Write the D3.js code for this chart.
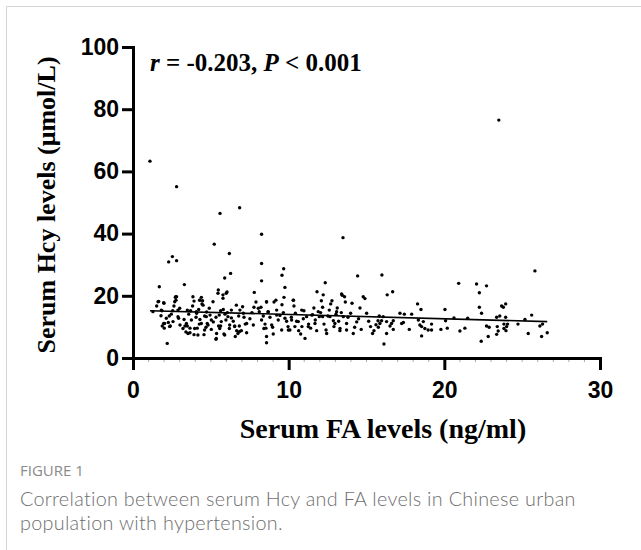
<!DOCTYPE html>
<html>
<head>
<meta charset="utf-8">
<script src="https://cdn.jsdelivr.net/npm/d3@7"></script>
<style>
  html, body { margin: 0; padding: 0; background: #fff; }
  svg { display: block; }
</style>
</head>
<body>
<svg id="chart" width="641" height="550"></svg>
<script>
// Serum FA levels (ng/ml) — x values
const fa = [
  1.09, 2.8, 23.5, 5.59, 6.85, 8.26, 5.22, 6.19, 2.53, 2.29, 2.8, 8.26, 6.27, 5.89, 8.26, 9.68, 9.57, 9.76, 13.49, 14.43, 12.35, 11.82, 7.79, 1.69, 3.3, 2.2, 5.48, 6.04, 5.78, 2.8,
  1.65, 1.52, 1.99, 1.86, 1.80, 1.97, 1.88, 2.01, 2.27, 2.40, 2.46, 2.33, 2.55, 2.63, 2.76, 2.72, 2.89, 2.93, 3.02, 3.28, 3.34, 3.49, 3.40, 3.66, 3.66, 3.92, 3.49, 3.58, 3.70, 3.83, 3.92, 4.09, 4.05, 4.22, 4.30, 4.39, 4.47, 4.43, 4.30, 4.26, 4.13, 4.56, 4.69, 4.77, 4.60, 4.73, 4.90, 4.95, 5.03, 5.16, 5.33, 5.37, 5.50, 5.33, 5.54, 5.63, 5.80, 5.91, 6.06, 5.97, 5.63, 5.84, 6.19, 6.32, 6.44, 6.53, 6.66, 6.57, 6.74, 6.83, 6.79, 6.87, 7.04, 7.13, 7.21, 6.96, 7.30, 7.51, 7.64, 7.77, 7.90, 8.11, 8.22, 8.37, 8.48, 8.58, 8.54, 8.58, 8.67, 8.80, 8.97, 9.01, 9.06, 9.23, 9.18, 9.33, 9.44, 9.57, 9.66, 9.70, 9.87, 9.96, 10.08, 10.17, 10.30, 10.34, 10.43, 10.51, 10.64, 10.77, 10.85, 10.94, 10.98, 11.15, 11.28, 11.41, 11.54, 11.62, 11.71, 11.80, 11.97, 12.05, 12.10, 12.18, 12.27, 12.40, 12.52, 12.61, 12.70, 12.78, 12.87, 12.91, 13.04, 13.12, 13.21, 13.29, 13.38, 13.44, 13.59, 13.64, 13.72, 13.81, 13.98, 14.07, 14.15, 14.24, 14.37, 14.49, 14.58, 14.66, 14.79, 14.90, 15.01, 15.14, 15.26, 15.39, 15.48, 15.61, 15.74, 15.82,
  15.99, 16.33, 16.68, 15.76, 15.86, 15.97, 16.07, 16.29, 16.12, 16.29, 16.51, 16.61, 16.72, 16.72, 17.15, 17.26, 17.43, 17.37, 17.75, 17.90, 18.28, 18.33, 18.50, 18.43, 18.54, 18.54, 18.65, 18.75, 18.96, 19.18, 19.18, 19.78, 20.04, 20.08, 20.19, 20.62, 20.92, 21.00, 21.32, 21.50, 22.07, 22.25, 22.71, 22.25, 22.39, 22.37, 22.82, 22.71, 22.88, 23.36, 23.40, 23.36, 23.56, 23.46, 23.68, 23.79, 23.94, 23.94, 23.83, 24.00, 23.96, 23.83, 24.06, 24.73, 25.18, 25.39, 25.61, 25.82, 26.14, 26.25, 26.31, 26.61,
  7.09, 7.30, 7.73, 8.05, 8.26, 8.41, 8.58, 8.69, 8.91, 9.23, 9.55, 9.76, 9.98, 10.19, 10.40, 10.62, 10.84, 11.05, 11.26, 11.48, 11.69, 11.90, 12.18, 12.44, 12.65, 12.97, 13.08, 13.30, 13.51, 13.72, 12.22, 13.40, 10.30, 8.58,
  1.61, 1.97, 2.74, 2.68, 1.28, 1.82, 2.14, 2.03, 2.35, 2.57, 2.89, 3.00, 3.21, 3.43, 3.53, 3.75, 3.85, 3.96, 4.07, 4.17, 4.28, 4.39, 4.50, 4.60, 4.71, 4.82, 5.03, 5.14, 5.35, 5.46, 5.57, 5.67, 5.78, 5.89, 5.99, 6.10, 6.21, 6.32, 6.53, 6.64, 6.85
];
// Serum Hcy levels (µmol/L) — y values
const hcy = [
  63.3, 55.1, 76.5, 46.5, 48.3, 39.8, 36.6, 33.6, 32.6, 30.9, 31.3, 30.4, 27.2, 25.7, 24.8, 28.7, 26.6, 22.7, 38.7, 26.4, 24.2, 21.3, 21.1, 22.9, 23.6, 4.7, 21.9, 21.2, 20.3, 19.7,
  18.2, 16.7, 17.6, 15.2, 13.6, 11.1, 10.3, 9.6, 11.4, 10.3, 14.1, 13.5, 15.2, 16.7, 18.6, 19.5, 15.4, 12.8, 10.6, 12.4, 10.3, 10.3, 8.4, 9.6, 8.1, 7.5, 15.4, 14.1, 15.2, 16.7, 18.3, 14.4, 13.1, 15.6, 18.6, 19.5, 18.4, 17.4, 12.4, 10.9, 9.6, 7.5, 9.9, 11.1, 13.5, 14.8, 16.0, 13.8, 9.2, 11.6, 6.0, 7.9, 10.3, 13.1, 13.8, 15.2, 15.6, 14.1, 14.6, 12.2, 10.3, 7.7, 9.5, 12.9, 11.8, 10.3, 8.8, 6.9, 7.9, 10.3, 13.5, 15.4, 16.5, 13.1, 10.9, 8.8, 8.1, 12.6, 14.6, 16.3, 18.0, 14.9, 16.3, 13.5, 10.9, 4.9, 9.6, 18.0, 14.8, 13.1, 9.9, 7.7, 18.0, 15.4, 18.6, 12.2, 13.7, 17.1, 14.6, 19.5, 11.8, 10.1, 9.0, 13.1, 18.6, 16.7, 14.4, 11.8, 8.8, 7.7, 10.1, 12.6, 15.2, 13.3, 10.9, 9.6, 13.9, 16.1, 12.2, 8.8, 13.3, 14.6, 18.4, 16.3, 10.9, 9.0, 13.5, 15.4, 17.4, 18.4, 12.0, 10.1, 14.1, 16.1, 11.8, 8.8, 14.6, 20.2, 19.7, 18.0, 11.1, 13.1, 14.4, 17.6, 7.9, 9.9, 11.6, 12.6, 16.1, 9.2, 19.7, 19.1, 14.4, 11.8, 10.1, 7.9, 8.8, 10.7, 12.0, 13.5,
  26.7, 20.3, 21.3, 9.9, 11.1, 12.0, 13.3, 11.7, 4.5, 7.9, 10.3, 11.1, 12.0, 9.2, 14.4, 11.1, 14.1, 11.4, 9.2, 14.1, 17.4, 12.2, 15.6, 10.6, 7.1, 10.1, 11.7, 9.5, 9.0, 10.9, 9.0, 9.2, 15.6, 12.0, 9.6, 12.9, 24.0, 8.7, 9.6, 12.8, 23.8, 21.0, 23.2, 16.3, 14.4, 5.4, 6.9, 10.3, 9.9, 13.1, 10.1, 7.6, 13.5, 8.7, 16.7, 16.3, 17.4, 13.1, 10.9, 10.1, 8.8, 9.5, 10.9, 10.9, 12.4, 7.9, 13.8, 28.0, 10.3, 6.9, 10.9, 8.1,
  14.4, 11.1, 10.6, 16.0, 12.2, 9.5, 6.9, 14.9, 10.6, 13.8, 9.0, 12.8, 9.0, 12.2, 10.1, 11.7, 15.4, 6.3, 10.1, 13.8, 11.1, 14.9, 13.3, 7.9, 13.3, 11.1, 14.9, 9.5, 13.3, 9.0, 20.3, 20.6, 18.6, 18.1,
  18.1, 17.8, 19.7, 18.1, 14.9, 15.4, 12.8, 11.1, 10.1, 11.7, 13.3, 16.0, 9.5, 11.1, 7.9, 12.2, 19.7, 9.5, 14.9, 7.4, 18.6, 11.1, 17.0, 9.0, 13.3, 10.6, 12.2, 18.1, 6.3, 20.8, 9.5, 11.7, 19.2, 7.4, 20.8, 13.3, 10.6, 15.4, 10.1, 17.0, 8.5
];
// Linear fit
const fitIntercept = 15.35;
const fitSlope = -0.137;
const xTicks = [0, 10, 20, 30];
const yTicks = [0, 20, 40, 60, 80, 100];
const xTitle = "Serum FA levels (ng/ml)";
const yTitle = "Serum Hcy levels (\u03bcmol/L)";
const captionHead = "FIGURE 1";
const captionLines = [
  "Correlation between serum Hcy and FA levels in Chinese urban",
  "population with hypertension."
];

const svg = d3.select("#chart");

// frame
svg.append("path")
  .attr("d", "M6.5,550 V6.5 H641")
  .attr("fill", "none").attr("stroke", "#d4d4d4").attr("stroke-width", 1);

const x = d3.scaleLinear().domain([0, 30]).range([133, 600]);
const y = d3.scaleLinear().domain([0, 100]).range([358, 47]);

const tickFont = "'Liberation Sans', Arial, sans-serif";
const serif = "'Liberation Serif', 'Times New Roman', serif";

// minor ticks on x
svg.append("g")
  .selectAll("line")
  .data(d3.range(1, 30).filter(v => v % 10 !== 0))
  .join("line")
  .attr("x1", d => x(d)).attr("x2", d => x(d))
  .attr("y1", 360).attr("y2", 362)
  .attr("stroke", "#aaa").attr("stroke-width", 1);

const xAxis = svg.append("g")
  .attr("transform", "translate(0,358)")
  .call(d3.axisBottom(x).tickValues(xTicks).tickSize(12).tickSizeOuter(0).tickPadding(12));
const yAxis = svg.append("g")
  .attr("transform", "translate(133,0)")
  .call(d3.axisLeft(y).tickValues(yTicks).tickSize(11).tickSizeOuter(0).tickPadding(3));

[xAxis, yAxis].forEach(g => {
  g.select(".domain").attr("stroke", "#000").attr("stroke-width", 3).attr("stroke-linecap", "square");
  g.selectAll(".tick line").attr("stroke", "#000").attr("stroke-width", 3);
  g.selectAll(".tick text")
    .attr("fill", "#000")
    .style("font-family", tickFont)
    .style("font-weight", "bold")
    .style("font-size", "23px");
});

// points
const pts = fa.map((v, i) => ({ fa: v, hcy: hcy[i] }));
svg.append("g")
  .selectAll("circle")
  .data(pts)
  .join("circle")
  .attr("cx", d => x(d.fa))
  .attr("cy", d => y(d.hcy))
  .attr("r", 1.7)
  .attr("fill", "#000");

// regression line
const xMin = d3.min(fa), xMax = d3.max(fa);
svg.append("line")
  .attr("x1", x(xMin)).attr("y1", y(fitIntercept + fitSlope * xMin))
  .attr("x2", x(xMax)).attr("y2", y(fitIntercept + fitSlope * xMax))
  .attr("stroke", "#000").attr("stroke-width", 1.6);

// annotation
const ann = svg.append("text")
  .attr("x", 150).attr("y", 71)
  .style("font-family", serif).style("font-weight", "bold").style("font-size", "25px");
ann.append("tspan").style("font-style", "italic").text("r");
ann.append("tspan").text(" = -0.203, ");
ann.append("tspan").style("font-style", "italic").text("P");
ann.append("tspan").text(" < 0.001");

// axis titles
svg.append("text")
  .attr("x", 383).attr("y", 438)
  .attr("text-anchor", "middle")
  .style("font-family", serif).style("font-weight", "bold").style("font-size", "28px")
  .text(xTitle);
svg.append("text")
  .attr("transform", "translate(55,205) rotate(-90)")
  .attr("text-anchor", "middle")
  .style("font-family", serif).style("font-weight", "bold").style("font-size", "26px")
  .text(yTitle);

// caption
svg.append("text")
  .attr("x", 20).attr("y", 476)
  .style("font-family", "'Open Sans', sans-serif").style("font-size", "15px").style("font-weight", 400)
  .attr("fill", "#8a8a8a")
  .text(captionHead);
svg.append("g").selectAll("text")
  .data(captionLines)
  .join("text")
  .attr("x", 20).attr("y", (d, i) => 506 + i * 24)
  .style("font-family", "Lato, 'Open Sans', sans-serif").style("font-size", "19.8px").style("font-weight", 300)
  .style("letter-spacing", "0.3px")
  .attr("fill", "#6e6e6e")
  .text(d => d);
</script>
</body>
</html>
